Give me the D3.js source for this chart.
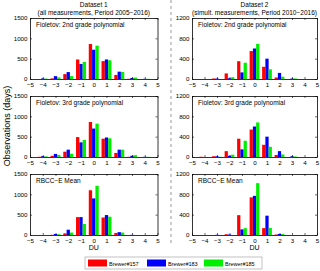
<!DOCTYPE html>
<html><head><meta charset="utf-8">
<script src="https://cdn.jsdelivr.net/npm/d3@7"></script>
<style>body{margin:0;background:#fff}svg{display:block}text{font-family:"Liberation Sans",Arial,sans-serif}</style>
</head><body>
<svg id="c" width="320" height="271"></svg>
<script>
const categories = [-4,-3,-2,-1,0,1,2,3,4];
const xTicks = [-5,-4,-3,-2,-1,0,1,2,3,4,5];
const seriesNames = ["Brewer#157","Brewer#183","Brewer#185"];
const colors = ["#ff0000","#0000ff","#00ee00"];
const leftYTicks = [0,500,1000,1500];
const rightYTicks = [0,400,800,1200];
const panelTitles = ["Fioletov: 2nd grade polynomial","Fioletov: 3rd grade polynomial","RBCC\u2212E Mean"];
// Dataset 1
const d1_2nd_157 = [0,15,120,480,860,440,100,5,0];
const d1_2nd_183 = [15,70,170,370,720,480,180,25,5];
const d1_2nd_185 = [10,40,70,420,820,460,175,35,5];
const d1_3rd_157 = [5,30,130,490,860,450,100,5,0];
const d1_3rd_183 = [20,75,180,360,700,480,180,30,5];
const d1_3rd_185 = [15,50,80,420,820,460,180,45,5];
const d1_rb_157 = [0,5,40,440,1100,430,50,0,0];
const d1_rb_183 = [0,25,130,440,900,490,70,5,0];
const d1_rb_185 = [0,20,60,270,1210,450,60,0,0];
// Dataset 2
const d2_2nd_157 = [0,10,110,350,550,240,30,0,0];
const d2_2nd_183 = [0,10,15,130,600,400,120,10,0];
const d2_2nd_185 = [0,0,35,320,690,190,45,10,0];
const d2_3rd_157 = [5,15,115,360,540,240,40,0,0];
const d2_3rd_183 = [0,15,25,150,600,400,115,15,0];
const d2_3rd_185 = [0,5,45,320,680,200,50,10,0];
const d2_rb_157 = [0,0,15,390,740,135,10,0,0];
const d2_rb_183 = [0,5,10,110,770,380,20,0,0];
const d2_rb_185 = [0,0,0,135,1020,140,20,0,0];

const svg = d3.select("#c");
const fmt = v => String(v).replace("-", "\u2212");

const panels = [
  {col:0,row:0,data:[d1_2nd_157,d1_2nd_183,d1_2nd_185],yt:leftYTicks},
  {col:0,row:1,data:[d1_3rd_157,d1_3rd_183,d1_3rd_185],yt:leftYTicks},
  {col:0,row:2,data:[d1_rb_157,d1_rb_183,d1_rb_185],yt:leftYTicks},
  {col:1,row:0,data:[d2_2nd_157,d2_2nd_183,d2_2nd_185],yt:rightYTicks},
  {col:1,row:1,data:[d2_3rd_157,d2_3rd_183,d2_3rd_185],yt:rightYTicks},
  {col:1,row:2,data:[d2_rb_157,d2_rb_183,d2_rb_185],yt:rightYTicks}
];
const colX = [[30,157.5],[192,317]];
const rowTop = [18,96,174];
const ph = 61;

panels.forEach(p => {
  const [x0,x1] = colX[p.col];
  const y0 = rowTop[p.row], yb = y0+ph;
  const x = d3.scaleLinear().domain([-5,5]).range([x0,x1]);
  const y = d3.scaleLinear().domain([0,p.yt[p.yt.length-1]]).range([yb,y0]);
  const g = svg.append("g");
  const bw = (x(1)-x(0))*0.26;
  p.data.forEach((s,si) => {
    g.selectAll(null).data(categories.map((c,i)=>({c,v:s[i]}))).enter().append("rect")
      .attr("x", d => x(d.c) + (si-1.5)*bw)
      .attr("width", bw)
      .attr("y", d => y(d.v))
      .attr("height", d => yb - y(d.v))
      .attr("fill", colors[si]);
  });
  const ax = g.append("g").attr("transform",`translate(0,${yb})`)
    .call(d3.axisBottom(x).tickValues(xTicks).tickSizeInner(-2).tickSizeOuter(0).tickPadding(3.5).tickFormat(fmt));
  const ay = g.append("g").attr("transform",`translate(${x0},0)`)
    .call(d3.axisLeft(y).tickValues(p.yt).tickSizeInner(-2).tickSizeOuter(0).tickPadding(2.5).tickFormat(d=>d));
  const axt = g.append("g").attr("transform",`translate(0,${y0})`)
    .call(d3.axisTop(x).tickValues(xTicks).tickSizeInner(-2).tickSizeOuter(0).tickFormat(""));
  const ayr = g.append("g").attr("transform",`translate(${x1},0)`)
    .call(d3.axisRight(y).tickValues(p.yt).tickSizeInner(-2).tickSizeOuter(0).tickFormat(""));
  [ax,ay,axt,ayr].forEach(a => {
    a.select(".domain").attr("stroke","#000").attr("stroke-width",0.8);
    a.selectAll(".tick line").attr("stroke","#000").attr("stroke-width",0.6);
    a.selectAll("text").attr("font-size",6.2).attr("fill","#000").attr("font-family","Liberation Sans, Arial, sans-serif");
  });
  g.append("text").attr("x",x0+6).attr("y",y0+8.5).attr("font-size",6.5).text(panelTitles[p.row]);
});

[["Dataset 1","(all measurements, Period 2005\u22122016)"],["Dataset 2","(simult. measurements, Period 2010\u22122016)"]].forEach((t,i)=>{
  const cx = (colX[i][0]+colX[i][1])/2;
  svg.append("text").attr("x",cx).attr("y",7).attr("text-anchor","middle").attr("font-size",6.5).text(t[0]);
  svg.append("text").attr("x",cx).attr("y",14.5).attr("text-anchor","middle").attr("font-size",6.5).text(t[1]);
  svg.append("text").attr("x",cx).attr("y",249.5).attr("text-anchor","middle").attr("font-size",7).text("DU");
});
svg.append("text").attr("transform","translate(10,126) rotate(-90)").attr("text-anchor","middle").attr("font-size",9).text("Observations (days)");
svg.append("line").attr("x1",171).attr("x2",171).attr("y1",0).attr("y2",244)
  .attr("stroke","#aaaaaa").attr("stroke-width",1.2).attr("stroke-dasharray","3,3");
const lg = svg.append("g");
lg.append("rect").attr("x",85).attr("y",257).attr("width",177).attr("height",12).attr("fill","#fff").attr("stroke","#999").attr("stroke-width",0.6);
const lx = [88,147,204];
seriesNames.forEach((n,i)=>{
  lg.append("rect").attr("x",lx[i]).attr("y",259.5).attr("width",19).attr("height",7).attr("fill",colors[i]);
  lg.append("text").attr("x",lx[i]+21).attr("y",265.5).attr("font-size",5.5).text(n);
});
</script>
</body></html>
